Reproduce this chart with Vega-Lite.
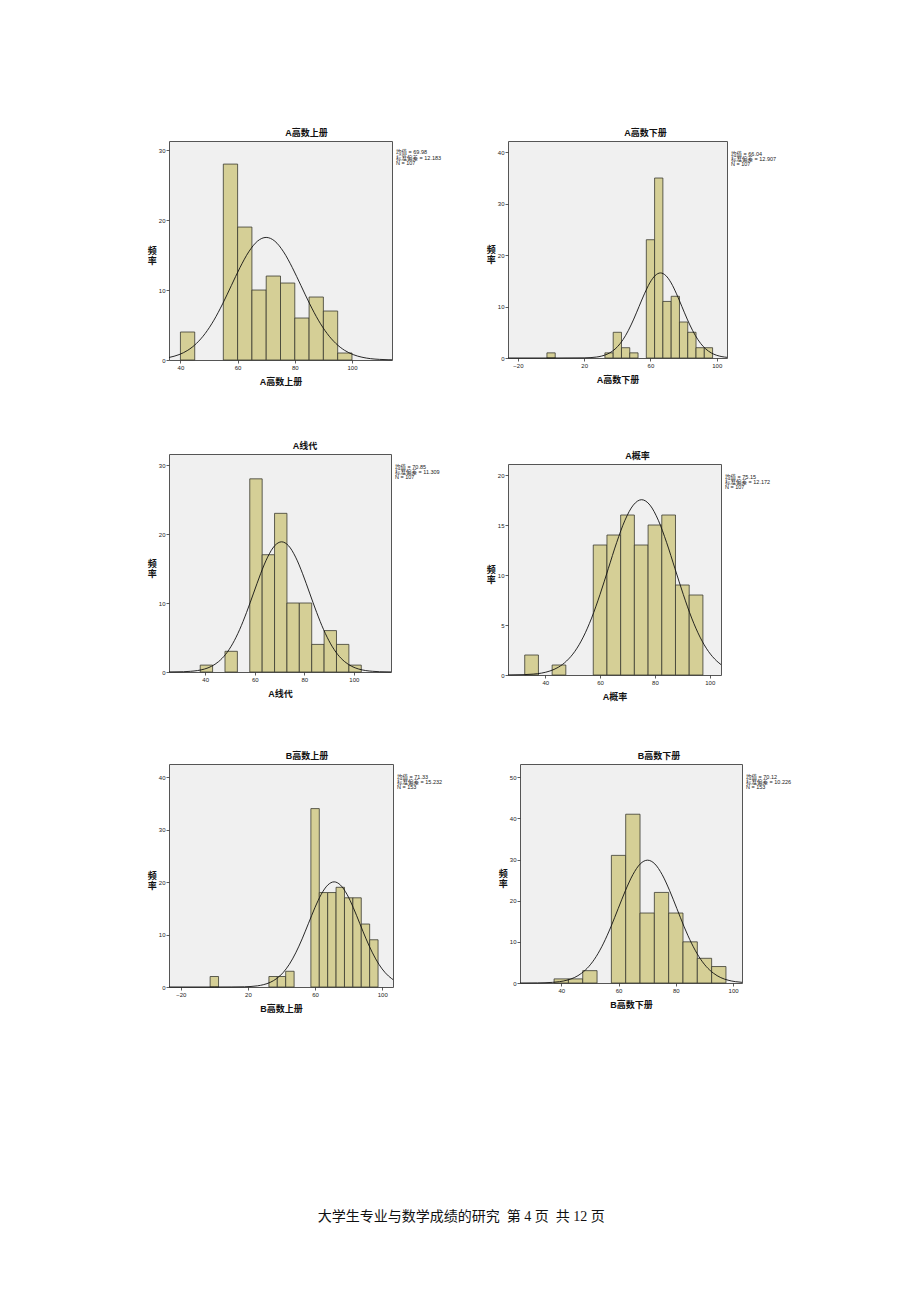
{
"$schema": "https://vega.github.io/schema/vega-lite/v6.json",
"padding": {"left": 146, "top": 128, "right": 0, "bottom": 0},
"background": "white",
"datasets": {
"bars": [
{"p":"p1","lo":40,"hi":45,"n":4},{"p":"p1","lo":55,"hi":60,"n":28},{"p":"p1","lo":60,"hi":65,"n":19},{"p":"p1","lo":65,"hi":70,"n":10},{"p":"p1","lo":70,"hi":75,"n":12},{"p":"p1","lo":75,"hi":80,"n":11},{"p":"p1","lo":80,"hi":85,"n":6},{"p":"p1","lo":85,"hi":90,"n":9},{"p":"p1","lo":90,"hi":95,"n":7},{"p":"p1","lo":95,"hi":100,"n":1},
{"p":"p2","lo":-2.5,"hi":2.5,"n":1},{"p":"p2","lo":32.5,"hi":37.5,"n":1},{"p":"p2","lo":37.5,"hi":42.5,"n":5},{"p":"p2","lo":42.5,"hi":47.5,"n":2},{"p":"p2","lo":47.5,"hi":52.5,"n":1},{"p":"p2","lo":57.5,"hi":62.5,"n":23},{"p":"p2","lo":62.5,"hi":67.5,"n":35},{"p":"p2","lo":67.5,"hi":72.5,"n":11},{"p":"p2","lo":72.5,"hi":77.5,"n":12},{"p":"p2","lo":77.5,"hi":82.5,"n":7},{"p":"p2","lo":82.5,"hi":87.5,"n":5},{"p":"p2","lo":87.5,"hi":92.5,"n":2},{"p":"p2","lo":92.5,"hi":97.5,"n":2},
{"p":"p3","lo":38,"hi":43,"n":1},{"p":"p3","lo":48,"hi":53,"n":3},{"p":"p3","lo":58,"hi":63,"n":28},{"p":"p3","lo":63,"hi":68,"n":17},{"p":"p3","lo":68,"hi":73,"n":23},{"p":"p3","lo":73,"hi":78,"n":10},{"p":"p3","lo":78,"hi":83,"n":10},{"p":"p3","lo":83,"hi":88,"n":4},{"p":"p3","lo":88,"hi":93,"n":6},{"p":"p3","lo":93,"hi":98,"n":4},{"p":"p3","lo":98,"hi":103,"n":1},
{"p":"p4","lo":32.5,"hi":37.5,"n":2},{"p":"p4","lo":42.5,"hi":47.5,"n":1},{"p":"p4","lo":57.5,"hi":62.5,"n":13},{"p":"p4","lo":62.5,"hi":67.5,"n":14},{"p":"p4","lo":67.5,"hi":72.5,"n":16},{"p":"p4","lo":72.5,"hi":77.5,"n":13},{"p":"p4","lo":77.5,"hi":82.5,"n":15},{"p":"p4","lo":82.5,"hi":87.5,"n":16},{"p":"p4","lo":87.5,"hi":92.5,"n":9},{"p":"p4","lo":92.5,"hi":97.5,"n":8},
{"p":"p5","lo":-2.5,"hi":2.5,"n":2},{"p":"p5","lo":32.5,"hi":37.5,"n":2},{"p":"p5","lo":37.5,"hi":42.5,"n":2},{"p":"p5","lo":42.5,"hi":47.5,"n":3},{"p":"p5","lo":57.5,"hi":62.5,"n":34},{"p":"p5","lo":62.5,"hi":67.5,"n":18},{"p":"p5","lo":67.5,"hi":72.5,"n":18},{"p":"p5","lo":72.5,"hi":77.5,"n":19},{"p":"p5","lo":77.5,"hi":82.5,"n":17},{"p":"p5","lo":82.5,"hi":87.5,"n":17},{"p":"p5","lo":87.5,"hi":92.5,"n":12},{"p":"p5","lo":92.5,"hi":97.5,"n":9},
{"p":"p6","lo":37.5,"hi":42.5,"n":1},{"p":"p6","lo":42.5,"hi":47.5,"n":1},{"p":"p6","lo":47.5,"hi":52.5,"n":3},{"p":"p6","lo":57.5,"hi":62.5,"n":31},{"p":"p6","lo":62.5,"hi":67.5,"n":41},{"p":"p6","lo":67.5,"hi":72.5,"n":17},{"p":"p6","lo":72.5,"hi":77.5,"n":22},{"p":"p6","lo":77.5,"hi":82.5,"n":17},{"p":"p6","lo":82.5,"hi":87.5,"n":10},{"p":"p6","lo":87.5,"hi":92.5,"n":6},{"p":"p6","lo":92.5,"hi":97.5,"n":4}
],
"curve": [
{"p":"p1","x":36,"y":0.36},{"p":"p1","x":39.52,"y":0.77},{"p":"p1","x":42.57,"y":1.39},{"p":"p1","x":45.61,"y":2.37},{"p":"p1","x":48.66,"y":3.79},{"p":"p1","x":51.71,"y":5.69},{"p":"p1","x":54.75,"y":8.02},{"p":"p1","x":57.8,"y":10.63},{"p":"p1","x":60.84,"y":13.22},{"p":"p1","x":63.89,"y":15.46},{"p":"p1","x":66.93,"y":16.98},{"p":"p1","x":69.98,"y":17.52},{"p":"p1","x":73.03,"y":16.98},{"p":"p1","x":76.07,"y":15.46},{"p":"p1","x":79.12,"y":13.22},{"p":"p1","x":82.16,"y":10.63},{"p":"p1","x":85.21,"y":8.02},{"p":"p1","x":88.25,"y":5.69},{"p":"p1","x":91.3,"y":3.79},{"p":"p1","x":94.35,"y":2.37},{"p":"p1","x":97.39,"y":1.39},{"p":"p1","x":100.44,"y":0.77},{"p":"p1","x":103.48,"y":0.4},{"p":"p1","x":106.53,"y":0.19},{"p":"p1","x":109.57,"y":0.09},{"p":"p1","x":112.62,"y":0.04},{"p":"p1","x":114,"y":0.03},
{"p":"p2","x":-26,"y":0},{"p":"p2","x":0,"y":0},{"p":"p2","x":20,"y":0.03},{"p":"p2","x":24.09,"y":0.08},{"p":"p2","x":27.32,"y":0.18},{"p":"p2","x":30.55,"y":0.38},{"p":"p2","x":33.77,"y":0.73},{"p":"p2","x":37.0,"y":1.32},{"p":"p2","x":40.23,"y":2.24},{"p":"p2","x":43.45,"y":3.58},{"p":"p2","x":46.68,"y":5.37},{"p":"p2","x":49.91,"y":7.57},{"p":"p2","x":53.13,"y":10.03},{"p":"p2","x":56.36,"y":12.48},{"p":"p2","x":59.59,"y":14.6},{"p":"p2","x":62.81,"y":16.03},{"p":"p2","x":66.04,"y":16.54},{"p":"p2","x":69.27,"y":16.03},{"p":"p2","x":72.49,"y":14.6},{"p":"p2","x":75.72,"y":12.48},{"p":"p2","x":78.95,"y":10.03},{"p":"p2","x":82.17,"y":7.57},{"p":"p2","x":85.4,"y":5.37},{"p":"p2","x":88.63,"y":3.58},{"p":"p2","x":91.85,"y":2.24},{"p":"p2","x":95.08,"y":1.32},{"p":"p2","x":98.31,"y":0.73},{"p":"p2","x":101.53,"y":0.38},{"p":"p2","x":104.76,"y":0.18},{"p":"p2","x":106.2,"y":0.13},
{"p":"p3","x":25.4,"y":0.01},{"p":"p3","x":31.27,"y":0.04},{"p":"p3","x":34.1,"y":0.1},{"p":"p3","x":36.92,"y":0.21},{"p":"p3","x":39.75,"y":0.43},{"p":"p3","x":42.58,"y":0.83},{"p":"p3","x":45.4,"y":1.5},{"p":"p3","x":48.23,"y":2.55},{"p":"p3","x":51.06,"y":4.08},{"p":"p3","x":53.89,"y":6.13},{"p":"p3","x":56.71,"y":8.64},{"p":"p3","x":59.54,"y":11.44},{"p":"p3","x":62.37,"y":14.24},{"p":"p3","x":65.2,"y":16.65},{"p":"p3","x":68.02,"y":18.29},{"p":"p3","x":70.85,"y":18.87},{"p":"p3","x":73.68,"y":18.29},{"p":"p3","x":76.5,"y":16.65},{"p":"p3","x":79.33,"y":14.24},{"p":"p3","x":82.16,"y":11.44},{"p":"p3","x":84.99,"y":8.64},{"p":"p3","x":87.81,"y":6.13},{"p":"p3","x":90.64,"y":4.08},{"p":"p3","x":93.47,"y":2.55},{"p":"p3","x":96.3,"y":1.5},{"p":"p3","x":99.12,"y":0.83},{"p":"p3","x":101.95,"y":0.43},{"p":"p3","x":104.78,"y":0.21},{"p":"p3","x":107.6,"y":0.1},{"p":"p3","x":110.43,"y":0.04},{"p":"p3","x":115,"y":0.01},
{"p":"p4","x":26.4,"y":0.01},{"p":"p4","x":32.55,"y":0.04},{"p":"p4","x":35.59,"y":0.09},{"p":"p4","x":38.63,"y":0.19},{"p":"p4","x":41.68,"y":0.4},{"p":"p4","x":44.72,"y":0.77},{"p":"p4","x":47.76,"y":1.4},{"p":"p4","x":50.81,"y":2.37},{"p":"p4","x":53.85,"y":3.79},{"p":"p4","x":56.89,"y":5.69},{"p":"p4","x":59.94,"y":8.03},{"p":"p4","x":62.98,"y":10.63},{"p":"p4","x":66.02,"y":13.23},{"p":"p4","x":69.06,"y":15.47},{"p":"p4","x":72.11,"y":16.99},{"p":"p4","x":75.15,"y":17.53},{"p":"p4","x":78.19,"y":16.99},{"p":"p4","x":81.24,"y":15.47},{"p":"p4","x":84.28,"y":13.23},{"p":"p4","x":87.32,"y":10.63},{"p":"p4","x":90.37,"y":8.03},{"p":"p4","x":93.41,"y":5.69},{"p":"p4","x":96.45,"y":3.79},{"p":"p4","x":99.49,"y":2.37},{"p":"p4","x":102.54,"y":1.4},{"p":"p4","x":104.1,"y":1.04},
{"p":"p5","x":-27,"y":0},{"p":"p5","x":0,"y":0},{"p":"p5","x":10,"y":0.01},{"p":"p5","x":18.02,"y":0.04},{"p":"p5","x":21.83,"y":0.1},{"p":"p5","x":25.63,"y":0.22},{"p":"p5","x":29.44,"y":0.46},{"p":"p5","x":33.25,"y":0.88},{"p":"p5","x":37.06,"y":1.6},{"p":"p5","x":40.87,"y":2.71},{"p":"p5","x":44.67,"y":4.33},{"p":"p5","x":48.48,"y":6.51},{"p":"p5","x":52.29,"y":9.17},{"p":"p5","x":56.1,"y":12.15},{"p":"p5","x":59.91,"y":15.13},{"p":"p5","x":63.71,"y":17.69},{"p":"p5","x":67.52,"y":19.42},{"p":"p5","x":71.33,"y":20.04},{"p":"p5","x":75.14,"y":19.42},{"p":"p5","x":78.95,"y":17.69},{"p":"p5","x":82.75,"y":15.13},{"p":"p5","x":86.56,"y":12.15},{"p":"p5","x":90.37,"y":9.17},{"p":"p5","x":94.18,"y":6.51},{"p":"p5","x":97.99,"y":4.33},{"p":"p5","x":101.79,"y":2.71},{"p":"p5","x":105.6,"y":1.6},{"p":"p5","x":106.4,"y":1.42},
{"p":"p6","x":25.6,"y":0.0},{"p":"p6","x":31.77,"y":0.03},{"p":"p6","x":34.33,"y":0.07},{"p":"p6","x":36.89,"y":0.15},{"p":"p6","x":39.44,"y":0.33},{"p":"p6","x":42.0,"y":0.68},{"p":"p6","x":44.56,"y":1.31},{"p":"p6","x":47.11,"y":2.38},{"p":"p6","x":49.67,"y":4.04},{"p":"p6","x":52.22,"y":6.45},{"p":"p6","x":54.78,"y":9.69},{"p":"p6","x":57.34,"y":13.66},{"p":"p6","x":59.89,"y":18.1},{"p":"p6","x":62.45,"y":22.52},{"p":"p6","x":65.01,"y":26.33},{"p":"p6","x":67.56,"y":28.92},{"p":"p6","x":70.12,"y":29.84},{"p":"p6","x":72.68,"y":28.92},{"p":"p6","x":75.23,"y":26.33},{"p":"p6","x":77.79,"y":22.52},{"p":"p6","x":80.35,"y":18.1},{"p":"p6","x":82.9,"y":13.66},{"p":"p6","x":85.46,"y":9.69},{"p":"p6","x":88.02,"y":6.45},{"p":"p6","x":90.57,"y":4.04},{"p":"p6","x":93.13,"y":2.38},{"p":"p6","x":95.69,"y":1.31},{"p":"p6","x":98.24,"y":0.68},{"p":"p6","x":100.8,"y":0.33},{"p":"p6","x":103.1,"y":0.16}
],
"stats": [
{"p":"p1","label":"均值 = 69.98\n标准偏差 = 12.183\nN = 107"},
{"p":"p2","label":"均值 = 66.04\n标准偏差 = 12.907\nN = 107"},
{"p":"p3","label":"均值 = 70.85\n标准偏差 = 11.309\nN = 107"},
{"p":"p4","label":"均值 = 75.15\n标准偏差 = 12.172\nN = 107"},
{"p":"p5","label":"均值 = 71.33\n标准偏差 = 15.232\nN = 153"},
{"p":"p6","label":"均值 = 70.12\n标准偏差 = 10.226\nN = 153"}
]
},
"title": {"text": "大学生专业与数学成绩的研究\u00a0\u00a0第 4 页\u00a0\u00a0共 12 页", "orient": "bottom", "offset": 196, "fontSize": 14, "fontWeight": "normal", "font": "Liberation Serif, Noto Sans CJK SC", "anchor": "middle", "frame": "bounds", "dx": -8, "color": "#111111"},
"spacing": 49,
"vconcat": [
{"columns": 2, "align": "none", "spacing": {"row": 42, "column": 43},
 "concat": [
{"width": 223, "height": 219, "title": {"text": "A高数上册", "dx": 26},
 "layer": [
 {"data": {"name": "bars"}, "transform": [{"filter": "datum.p == 'p1'"}], "mark": {"type": "rect", "fill": "#d5cf96", "stroke": "#3a3a30", "strokeWidth": 0.8},
  "encoding": {"x": {"field": "lo", "type": "quantitative", "scale": {"domain": [36, 114], "nice": false, "zero": false}, "axis": {"values": [40, 60, 80, 100], "title": "A高数上册"}}, "x2": {"field": "hi"},
   "y": {"field": "n", "type": "quantitative", "scale": {"domain": [0, 31.3], "nice": false}, "axis": {"values": [0, 10, 20, 30], "title": ["频", "率"]}}, "y2": {"datum": 0}}},
 {"data": {"name": "curve"}, "transform": [{"filter": "datum.p == 'p1'"}], "mark": {"type": "line", "color": "#111111", "strokeWidth": 0.9, "interpolate": "monotone"},
  "encoding": {"x": {"field": "x", "type": "quantitative"}, "y": {"field": "y", "type": "quantitative"}}},
 {"data": {"name": "stats"}, "transform": [{"filter": "datum.p == 'p1'"}], "mark": {"type": "text", "align": "left", "baseline": "top", "fontSize": 5.5, "lineHeight": 5.7, "lineBreak": "\n", "dx": 4, "dy": 9},
  "encoding": {"x": {"datum": 114, "type": "quantitative"}, "y": {"datum": 31.3, "type": "quantitative"}, "text": {"field": "label"}}}
 ]},
{"width": 219, "height": 217, "title": {"text": "A高数下册", "dx": 28},
 "layer": [
 {"data": {"name": "bars"}, "transform": [{"filter": "datum.p == 'p2'"}], "mark": {"type": "rect", "fill": "#d5cf96", "stroke": "#3a3a30", "strokeWidth": 0.8},
  "encoding": {"x": {"field": "lo", "type": "quantitative", "scale": {"domain": [-26, 106.2], "nice": false, "zero": false}, "axis": {"values": [-20, 0, 20, 40, 60, 80, 100], "title": "A高数下册"}}, "x2": {"field": "hi"},
   "y": {"field": "n", "type": "quantitative", "scale": {"domain": [0, 42.2], "nice": false}, "axis": {"values": [0, 10, 20, 30, 40], "title": ["频", "率"]}}, "y2": {"datum": 0}}},
 {"data": {"name": "curve"}, "transform": [{"filter": "datum.p == 'p2'"}], "mark": {"type": "line", "color": "#111111", "strokeWidth": 0.9, "interpolate": "monotone"},
  "encoding": {"x": {"field": "x", "type": "quantitative"}, "y": {"field": "y", "type": "quantitative"}}},
 {"data": {"name": "stats"}, "transform": [{"filter": "datum.p == 'p2'"}], "mark": {"type": "text", "align": "left", "baseline": "top", "fontSize": 5.5, "lineHeight": 5.2, "lineBreak": "\n", "dx": 4, "dy": 11},
  "encoding": {"x": {"datum": 106.2, "type": "quantitative"}, "y": {"datum": 42.2, "type": "quantitative"}, "text": {"field": "label"}}}
 ]},
{"width": 222, "height": 218, "title": {"text": ["", "A线代"], "dx": 25, "lineHeight": 12},
 "layer": [
 {"data": {"name": "bars"}, "transform": [{"filter": "datum.p == 'p3'"}], "mark": {"type": "rect", "fill": "#d5cf96", "stroke": "#3a3a30", "strokeWidth": 0.8},
  "encoding": {"x": {"field": "lo", "type": "quantitative", "scale": {"domain": [25.4, 115], "nice": false, "zero": false}, "axis": {"values": [40, 60, 80, 100], "title": "A线代"}}, "x2": {"field": "hi"},
   "y": {"field": "n", "type": "quantitative", "scale": {"domain": [0, 31.6], "nice": false}, "axis": {"values": [0, 10, 20, 30], "title": ["频", "率"]}}, "y2": {"datum": 0}}},
 {"data": {"name": "curve"}, "transform": [{"filter": "datum.p == 'p3'"}], "mark": {"type": "line", "color": "#111111", "strokeWidth": 0.9, "interpolate": "monotone"},
  "encoding": {"x": {"field": "x", "type": "quantitative"}, "y": {"field": "y", "type": "quantitative"}}},
 {"data": {"name": "stats"}, "transform": [{"filter": "datum.p == 'p3'"}], "mark": {"type": "text", "align": "left", "baseline": "top", "fontSize": 5.5, "lineHeight": 5.2, "lineBreak": "\n", "dx": 4, "dy": 11},
  "encoding": {"x": {"datum": 115, "type": "quantitative"}, "y": {"datum": 31.6, "type": "quantitative"}, "text": {"field": "label"}}}
 ]},
{"width": 213, "height": 211, "title": {"text": ["", "A概率"], "dx": 23, "lineHeight": 22},
 "layer": [
 {"data": {"name": "bars"}, "transform": [{"filter": "datum.p == 'p4'"}], "mark": {"type": "rect", "fill": "#d5cf96", "stroke": "#3a3a30", "strokeWidth": 0.8},
  "encoding": {"x": {"field": "lo", "type": "quantitative", "scale": {"domain": [26.4, 104.1], "nice": false, "zero": false}, "axis": {"values": [40, 60, 80, 100], "title": "A概率"}}, "x2": {"field": "hi"},
   "y": {"field": "n", "type": "quantitative", "scale": {"domain": [0, 21.1], "nice": false}, "axis": {"values": [0, 5, 10, 15, 20], "title": ["频", "率"]}}, "y2": {"datum": 0}}},
 {"data": {"name": "curve"}, "transform": [{"filter": "datum.p == 'p4'"}], "mark": {"type": "line", "color": "#111111", "strokeWidth": 0.9, "interpolate": "monotone"},
  "encoding": {"x": {"field": "x", "type": "quantitative"}, "y": {"field": "y", "type": "quantitative"}}},
 {"data": {"name": "stats"}, "transform": [{"filter": "datum.p == 'p4'"}], "mark": {"type": "text", "align": "left", "baseline": "top", "fontSize": 5.5, "lineHeight": 5.2, "lineBreak": "\n", "dx": 4, "dy": 11},
  "encoding": {"x": {"datum": 104.1, "type": "quantitative"}, "y": {"datum": 21.1, "type": "quantitative"}, "text": {"field": "label"}}}
 ]}
 ]},
{"spacing": 54, "hconcat": [
{"width": 224, "height": 223, "title": {"text": "B高数上册", "dx": 26},
 "layer": [
 {"data": {"name": "bars"}, "transform": [{"filter": "datum.p == 'p5'"}], "mark": {"type": "rect", "fill": "#d5cf96", "stroke": "#3a3a30", "strokeWidth": 0.8},
  "encoding": {"x": {"field": "lo", "type": "quantitative", "scale": {"domain": [-27, 106.4], "nice": false, "zero": false}, "axis": {"values": [-20, 0, 20, 40, 60, 80, 100], "title": "B高数上册"}}, "x2": {"field": "hi"},
   "y": {"field": "n", "type": "quantitative", "scale": {"domain": [0, 42.5], "nice": false}, "axis": {"values": [0, 10, 20, 30, 40], "title": ["频", "率"]}}, "y2": {"datum": 0}}},
 {"data": {"name": "curve"}, "transform": [{"filter": "datum.p == 'p5'"}], "mark": {"type": "line", "color": "#111111", "strokeWidth": 0.9, "interpolate": "monotone"},
  "encoding": {"x": {"field": "x", "type": "quantitative"}, "y": {"field": "y", "type": "quantitative"}}},
 {"data": {"name": "stats"}, "transform": [{"filter": "datum.p == 'p5'"}], "mark": {"type": "text", "align": "left", "baseline": "top", "fontSize": 5.5, "lineHeight": 5.2, "lineBreak": "\n", "dx": 4, "dy": 11},
  "encoding": {"x": {"datum": 106.4, "type": "quantitative"}, "y": {"datum": 42.5, "type": "quantitative"}, "text": {"field": "label"}}}
 ]},
{"width": 222, "height": 219, "title": {"text": "B高数下册", "dx": 28},
 "layer": [
 {"data": {"name": "bars"}, "transform": [{"filter": "datum.p == 'p6'"}], "mark": {"type": "rect", "fill": "#d5cf96", "stroke": "#3a3a30", "strokeWidth": 0.8},
  "encoding": {"x": {"field": "lo", "type": "quantitative", "scale": {"domain": [25.6, 103.1], "nice": false, "zero": false}, "axis": {"values": [40, 60, 80, 100], "title": "B高数下册"}}, "x2": {"field": "hi"},
   "y": {"field": "n", "type": "quantitative", "scale": {"domain": [0, 53.2], "nice": false}, "axis": {"values": [0, 10, 20, 30, 40, 50], "title": ["频", "率"]}}, "y2": {"datum": 0}}},
 {"data": {"name": "curve"}, "transform": [{"filter": "datum.p == 'p6'"}], "mark": {"type": "line", "color": "#111111", "strokeWidth": 0.9, "interpolate": "monotone"},
  "encoding": {"x": {"field": "x", "type": "quantitative"}, "y": {"field": "y", "type": "quantitative"}}},
 {"data": {"name": "stats"}, "transform": [{"filter": "datum.p == 'p6'"}], "mark": {"type": "text", "align": "left", "baseline": "top", "fontSize": 5.5, "lineHeight": 5.2, "lineBreak": "\n", "dx": 4, "dy": 11},
  "encoding": {"x": {"datum": 103.1, "type": "quantitative"}, "y": {"datum": 53.2, "type": "quantitative"}, "text": {"field": "label"}}}
 ]}
]}
],
"config": {
 "font": "Liberation Sans, Noto Sans CJK SC",
 "view": {"fill": "#f0f0f0", "stroke": "#555555", "strokeWidth": 1},
 "axis": {"grid": false, "domain": false, "ticks": true, "tickSize": 3, "tickColor": "#333333", "tickWidth": 0.8, "labelFontSize": 6, "labelColor": "#222222", "labelPadding": 1, "titleFontSize": 9, "titleFontWeight": "bold", "titleColor": "#111111", "labelFont": "Liberation Sans, Noto Sans CJK SC", "titleFont": "Liberation Sans, Noto Sans CJK SC"},
 "axisX": {"titlePadding": 7},
 "axisY": {"titleAngle": 0, "titleAlign": "right", "titleBaseline": "middle", "titleLineHeight": 10, "titlePadding": -8},
 "title": {"fontSize": 9, "fontWeight": "bold", "offset": 3, "color": "#111111", "frame": "group", "anchor": "middle", "font": "Liberation Sans, Noto Sans CJK SC"},
 "text": {"color": "#222222", "font": "Liberation Sans, Noto Sans CJK SC"}
}
}
